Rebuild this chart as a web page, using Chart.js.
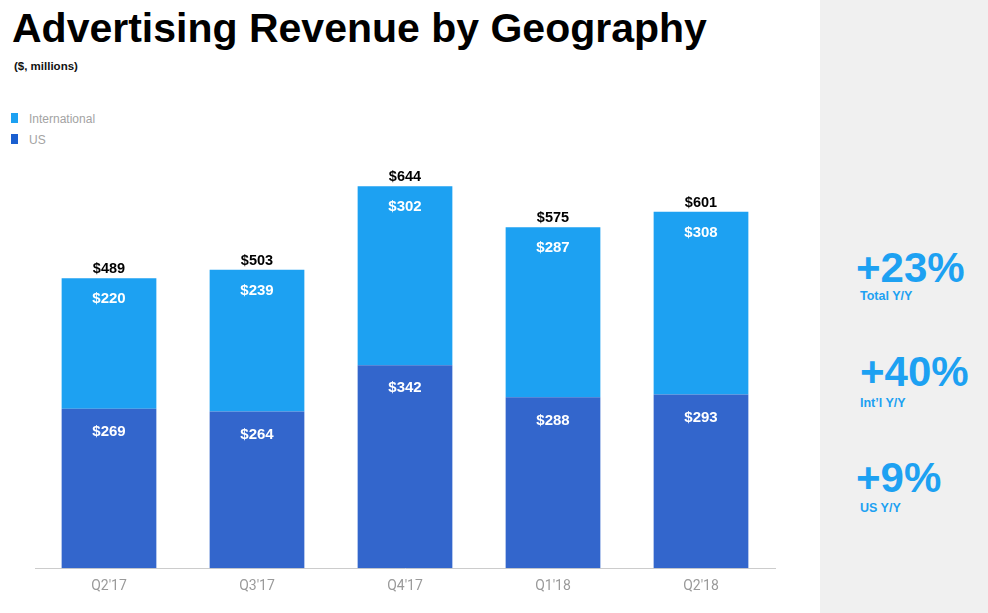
<!DOCTYPE html>
<html>
<head>
<meta charset="utf-8">
<script src="https://cdn.jsdelivr.net/npm/chart.js@4.4.1/dist/chart.umd.min.js"></script>
<style>
  body { margin: 0; width: 988px; height: 613px; background: #fff; position: relative; overflow: hidden; font-family: "Liberation Sans", Arial, sans-serif; }
  #title { position: absolute; left: 12px; top: 5px; font-size: 41px; font-weight: bold; color: #000; white-space: nowrap; }
  #subtitle { position: absolute; left: 14px; top: 60px; font-size: 11.5px; font-weight: bold; color: #111; }
  #legend { position: absolute; left: 11px; top: 113px; }
  .item { height: 21px; position: relative; }
  .sw { position: absolute; left: 0; top: 0; width: 7px; height: 10px; }
  .lbl { position: absolute; left: 18px; top: 0; font-size: 12px; color: #a3a3a3; line-height: 13px; }
  #side { position: absolute; left: 820px; top: 0; width: 168px; height: 613px; background: #f0f0f0; }
  .big { position: absolute; font-size: 42px; font-weight: bold; color: #1da1f2; line-height: 42px; }
  .small { position: absolute; font-size: 12.5px; font-weight: bold; color: #1da1f2; }
  #wrap { position: absolute; left: 0; top: 150px; width: 790px; height: 455px; }
</style>
</head>
<body>
<div id="title">Advertising Revenue by Geography</div>
<div id="subtitle">($, millions)</div>
<div id="legend"></div>
<div id="side">
  <div class="big" style="left:36px;top:247px;">+23%</div>
  <div class="small" style="left:40px;top:289px;">Total Y/Y</div>
  <div class="big" style="left:40px;top:351px;">+40%</div>
  <div class="small" style="left:40px;top:396px;">Int’l Y/Y</div>
  <div class="big" style="left:36px;top:457px;">+9%</div>
  <div class="small" style="left:40px;top:501px;">US Y/Y</div>
</div>
<div id="wrap"><canvas id="chart"></canvas></div>
<script>
const quarters = ["Q2'17", "Q3'17", "Q4'17", "Q1'18", "Q2'18"];
const usRevenue = [269, 264, 342, 288, 293];
const intlRevenue = [220, 239, 302, 287, 308];
const totalRevenue = [489, 503, 644, 575, 601];

const intlColor = "#1da1f2";
const usColor = "#3366cc";

// legend (International on top, like the slide)
const legend = document.getElementById("legend");
[["International", intlColor], ["US", "#1a5fd0"]].forEach(([name, color]) => {
    const item = document.createElement("div");
    item.className = "item";
    item.innerHTML = '<div class="sw" style="background:' + color + '"></div><div class="lbl">' + name + '</div>';
    legend.appendChild(item);
});

// labels inside the bars and totals on top
const barLabels = {
    id: "barLabels",
    afterDatasetsDraw(chart) {
        const ctx = chart.ctx;
        ctx.save();
        ctx.textAlign = "center";
        ctx.textBaseline = "middle";
        ctx.font = "bold 15px 'Liberation Sans', Arial, sans-serif";
        chart.data.datasets.forEach((ds, i) => {
            chart.getDatasetMeta(i).data.forEach((bar, j) => {
                ctx.fillStyle = "#fff";
                ctx.fillText("$" + ds.data[j], bar.x, bar.y + (i === 0 ? 23 : 21));
            });
        });
        const topMeta = chart.getDatasetMeta(chart.data.datasets.length - 1);
        ctx.font = "bold 14.5px 'Liberation Sans', Arial, sans-serif";
        topMeta.data.forEach((bar, j) => {
            ctx.fillStyle = "#000";
            ctx.fillText("$" + totalRevenue[j], bar.x, bar.y - 9);
        });
        ctx.restore();
    }
};

new Chart(document.getElementById("chart"), {
    type: "bar",
    data: {
        labels: quarters,
        datasets: [
            { label: "US", data: usRevenue, backgroundColor: usColor },
            { label: "International", data: intlRevenue, backgroundColor: intlColor }
        ]
    },
    options: {
        responsive: true,
        maintainAspectRatio: false,
        animation: false,
        layout: { padding: { left: 35, right: 15, top: 3, bottom: 0 } },
        datasets: { bar: { barPercentage: 0.64, categoryPercentage: 1 } },
        plugins: { legend: { display: false }, tooltip: { enabled: false } },
        scales: {
            x: {
                stacked: true,
                grid: { display: false, drawTicks: false },
                border: { display: true, color: "#cccccc" },
                ticks: { color: "#9a9a9a", padding: 10, font: { family: "Roboto", size: 14 } }
            },
            y: { stacked: true, display: false, min: 0, max: 700 }
        }
    },
    plugins: [barLabels]
});
</script>
</body>
</html>
